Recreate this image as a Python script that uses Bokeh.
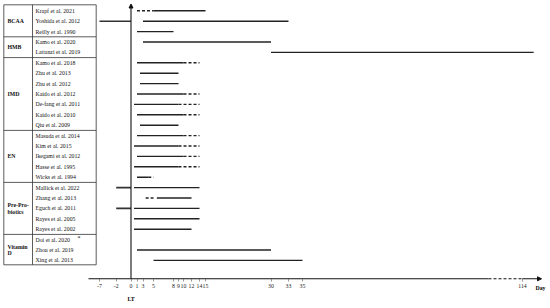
import numpy as np
from bokeh.plotting import figure
from bokeh.models import Range1d, LinearAxis, FixedTicker, Arrow, NormalHead, ColumnDataSource
from bokeh.core.properties import value
from bokeh.embed import file_html
from bokeh.resources import INLINE

# ---------------- data ----------------
studies = [
    "Krapf et al. 2021", "Yoshida et al. 2012", "Reilly et al. 1990",
    "Kamo et al. 2020", "Lattanzi et al. 2019",
    "Kamo et al. 2018", "Zhu et al. 2013", "Zhu et al. 2012", "Kaido et al. 2012",
    "De-fang et al. 2011", "Kaido et al. 2010", "Qiu et al. 2009",
    "Masuda et al. 2014", "Kim et al. 2015", "Ikegami et al. 2012", "Hasse et al. 1995",
    "Wicks et al. 1994",
    "Mallick et al. 2022", "Zhang et al. 2013", "Eguch et al. 2011", "Rayes et al. 2005",
    "Rayes et al. 2002",
    "Doi et al. 2020", "Zhou et al. 2019", "Xing et al. 2013",
]
groups = ["BCAA", "HMB", "IMD", "EN", "Pre-Pro-\nbiotics", "Vitamin\nD"]
group_sizes = [3, 2, 7, 5, 5, 3]

# solid (post-transplant) intervals, days
solid_start = [5, 3, 1, 3, 30, 1, 2, 2, 1, 0.5, 1, 2, 1, 0.5, 1, 0.5, 1, 0.5, 5.5, 0.5, 0.5, 0.5, None, 1, 5]
solid_end   = [15, 33, 8, 30, 118, 10, 9, 9, 10, 9, 10, 9, 10, 9, 10, 9, 4, 14, 12, 14, 14, 12, None, 30, 35]
# dashed intervals, days
dash_start = [1, None, None, None, None, 10, None, None, 10, 9, 10, None, 10, 9, 10, 9, 4, None, 3.5, None, None, None, None, None, None]
dash_end   = [5, None, None, None, None, 14, None, None, 14, 14, 14, None, 14, 14, 14, 14, 5, None, 5, None, None, None, None, None, None]
# pre-transplant intervals, days
pre_start = [None, -7, None, None, None, None, None, None, None, None, None, None, None, None, None, None, None, -2, None, -2, None, None, None, None, None]
pre_end   = [None, 0, None, None, None, None, None, None, None, None, None, None, None, None, None, None, None, 0, None, 0, None, None, None, None, None]
marked = ["Doi et al. 2020"]

tick_days = [-7, -2, 0, 1, 3, 5, 8, 9, 10, 12, 14, 15, 30, 33, 35, 114]
tick_labels = [str(d) for d in tick_days]

# ---------------- axis scale (hand-drawn, non-linear day axis) ----------------
TICK_X = [99, 115.7, 130.5, 136.5, 142.5, 153, 173, 178, 183, 191, 199, 205, 270.5, 288, 302, 522]


def day_x(d):
    d = float(d)
    if d > tick_days[-1]:
        s = (TICK_X[-1] - TICK_X[-2]) / (tick_days[-1] - tick_days[-2])
        return TICK_X[-1] + (d - tick_days[-1]) * s
    if d < tick_days[0]:
        s = (TICK_X[1] - TICK_X[0]) / (tick_days[1] - tick_days[0])
        return TICK_X[0] + (d - tick_days[0]) * s
    return float(np.interp(d, tick_days, TICK_X))


def row_y(px):  # pixel row -> row units
    return (px - 10.3) / 10.4


W, H = 550, 308
p = figure(width=W, height=H, x_range=Range1d(0, W), y_range=Range1d(row_y(H), row_y(0)),
           output_backend="svg", toolbar_location=None, min_border=0,
           x_axis_location=None, y_axis_location=None, outline_line_color=None)
p.grid.visible = False

FONT = value("Liberation Serif")
LC = "#222222"
n = len(studies)
rows = list(range(n))


def segs(starts, ends):
    x0, x1, y = [], [], []
    for i, (a, b) in enumerate(zip(starts, ends)):
        if a is None:
            continue
        x0.append(day_x(a)); x1.append(day_x(b)); y.append(i)
    return ColumnDataSource(dict(x0=x0, x1=x1, y=y))


p.segment("x0", "y", "x1", "y", source=segs(solid_start, solid_end), line_color=LC, line_width=1.4)
p.segment("x0", "y", "x1", "y", source=segs(dash_start, dash_end), line_color=LC, line_width=1.4,
          line_dash="3 2")
p.segment("x0", "y", "x1", "y", source=segs(pre_start, pre_end), line_color="#333333", line_width=1.6)

# ---------------- table ----------------
tx0, tx1, tdiv = 3.3, 95.7, 32
ttop, tbot = row_y(4.3), row_y(264.3)
p.quad(left=[tx0], right=[tx1], top=[ttop], bottom=[tbot], fill_color=None, line_color="#333333",
       line_width=0.8)
p.segment([tdiv], [ttop], [tdiv], [tbot], line_color="#333333", line_width=0.8)
bounds = np.cumsum(group_sizes)[:-1] - 0.5
p.segment([tx0] * len(bounds), list(bounds), [tx1] * len(bounds), list(bounds), line_color="#333333",
          line_width=0.8)

p.text(x=[35] * n, y=rows, text=studies, text_font=FONT, text_font_size="5.8px",
       text_baseline="middle", text_color="#111111")
starts = np.concatenate([[0], np.cumsum(group_sizes)[:-1]])
gy = [s + (sz - 1) / 2 for s, sz in zip(starts, group_sizes)]
p.text(x=[7] * len(groups), y=gy, text=groups, text_font=FONT, text_font_size="5.8px",
       text_font_style="bold", text_baseline="middle", text_color="#111111", text_line_height=1.1)
p.text(x=[77] * len(marked), y=[studies.index(m) - 0.15 for m in marked], text=["*"] * len(marked),
       text_font=FONT, text_font_size="5.8px", text_baseline="middle")

# ---------------- axes ----------------
axis_y = row_y(278.3)
x0_px = day_x(0)
# horizontal axis line with break
p.segment([88], [axis_y], [488], [axis_y], line_color="#111111", line_width=1.1)
p.segment([488], [axis_y], [522], [axis_y], line_color="#111111", line_width=1.1, line_dash="3 2")
p.add_layout(Arrow(end=NormalHead(size=4, fill_color="#111111", line_color="#111111"),
                   x_start=522, y_start=axis_y, x_end=541, y_end=axis_y,
                   line_color="#111111", line_width=1.1))
# vertical axis at day 0
p.add_layout(Arrow(end=NormalHead(size=4, fill_color="#111111", line_color="#111111"),
                   x_start=x0_px, y_start=axis_y, x_end=x0_px, y_end=row_y(3.5),
                   line_color="#111111", line_width=1.1))

tick_x = [day_x(d) for d in tick_days]
xaxis = LinearAxis(fixed_location=axis_y, ticker=FixedTicker(ticks=tick_x),
                   major_label_overrides={float(x): l for x, l in zip(tick_x, tick_labels)},
                   axis_line_color=None, major_tick_in=0, major_tick_out=3,
                   major_tick_line_color="#555555", major_tick_line_width=0.6,
                   minor_tick_line_color=None, major_label_standoff=2,
                   major_label_text_font="Liberation Serif", major_label_text_font_size="5.8px",
                   major_label_text_color="#222222")
p.add_layout(xaxis, "below")

p.text(x=[x0_px], y=[row_y(298)], text=["LT"], text_font=FONT, text_font_size="5.8px",
       text_font_style="bold", text_align="center", text_baseline="middle")
p.text(x=[540], y=[row_y(287.5)], text=["Day"], text_font=FONT, text_font_size="5.8px",
       text_font_style="bold", text_align="center", text_baseline="middle")

open("out.html", "w").write(file_html(p, INLINE))
